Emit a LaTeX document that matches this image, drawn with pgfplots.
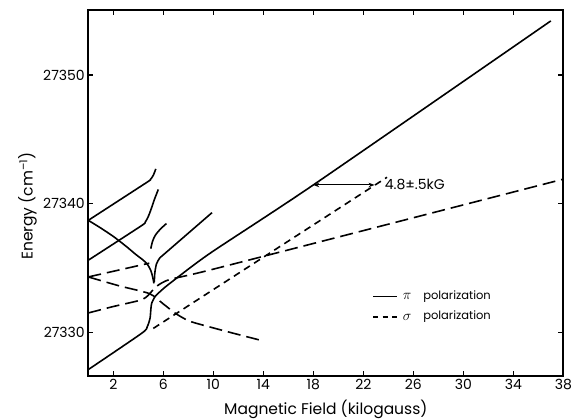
\documentclass[border=0pt]{standalone}
\usepackage{fontspec}
\setmainfont{Poppins}
\usepackage{pgfplots}
\pgfplotsset{compat=1.18}
\usetikzlibrary{arrows.meta}

% line styles of the original figure
\tikzset{
  piline/.style={black, line width=1.6pt},
  siglong/.style={black, line width=1.6pt, dash pattern=on 13pt off 6pt},
  sigshort/.style={black, line width=1.6pt, dash pattern=on 7pt off 5pt},
}

\begin{document}
\begin{tikzpicture}
\begin{axis}[
  at={(0,0)}, anchor=south west,
  scale only axis, width=475pt, height=366pt,
  xmin=0, xmax=38, ymin=27326.6, ymax=27355.05,
  xtick={2,6,...,38}, ytick={27330,27340,27350},
  scaled y ticks=false,
  /pgf/number format/1000 sep={},
  /pgf/number format/assume math mode=true,
  tick align=inside, major tick length=5pt,
  tick style={black, line width=1.2pt},
  axis line style={line width=2.2pt},
  tick label style={font=\fontsize{14}{16}\selectfont},
  label style={font=\fontsize{15.5}{18}\selectfont},
  xlabel={Magnetic Field (kilogauss)},
  ylabel={Energy (cm\textsuperscript{--1})},
  x label style={at={(axis description cs:0.5,-0.09)}, anchor=center},
  y label style={at={(axis description cs:-0.128,0.464)}, anchor=center},
]
% pi polarization (solid)
\addplot[piline, smooth, tension=0.4] coordinates {
  (0,27327.1) (4.27,27329.92) (4.72,27330.44) (4.94,27331.09) (5.0,27331.73)
  (5.07,27332.25) (5.34,27332.77) (5.74,27333.16) (6.54,27333.81) (9.74,27336.14)
  (18.0,27341.45) (37.0,27354.2)
};
\addplot[piline, smooth, tension=0.4] coordinates {
  (0,27338.7) (1,27338.1) (2,27337.45) (3,27336.7) (3.8,27336.05) (4.4,27335.6)
  (4.75,27335.25) (5.0,27334.8) (5.15,27334.3) (5.25,27333.8)
};
\addplot[piline, smooth, tension=0.4] coordinates {
  (5.28,27333.9) (5.32,27334.6) (5.45,27335.3) (5.7,27335.75) (6.1,27336.1) (9.9,27339.3)
};
\addplot[piline, smooth, tension=0.4] coordinates {
  (0,27338.7) (4.6,27341.6) (4.95,27341.85) (5.2,27342.2) (5.4,27342.7)
};
\addplot[piline, smooth, tension=0.4] coordinates {
  (0,27335.6) (4.2,27338.25) (4.55,27338.55) (4.8,27339.0) (5.0,27339.5) (5.3,27340.35) (5.6,27341.1)
};
\addplot[piline, smooth, tension=0.5] coordinates {
  (5.0,27336.5) (5.15,27337.1) (5.4,27337.6) (5.8,27338.05) (6.25,27338.45)
};
% sigma polarization (dashed)
\addplot[siglong] coordinates {(0,27334.3) (4.88,27335.37)};
\addplot[siglong, smooth, tension=0.4] coordinates {
  (0,27331.5) (2,27332.0) (4.0,27332.45) (4.6,27332.7) (5.0,27333.1) (5.5,27333.6)
  (6.5,27334.1) (9.74,27334.84) (26.4,27339.0) (38,27341.9)
};
\addplot[siglong, smooth, tension=0.4] coordinates {
  (0,27334.3) (2.5,27333.6) (4.9,27333.0) (6.0,27332.2) (7.0,27331.45) (8.0,27330.9)
  (9.0,27330.6) (11.5,27329.95) (13.9,27329.35)
};
\addplot[sigshort] coordinates {(5.2,27330.3) (23.9,27342.05)};
% legend
\addplot[piline] coordinates {(22.78,27332.77) (24.7,27332.77)};
\addplot[black, line width=1.6pt, dash pattern=on 5pt off 4.5pt] coordinates {(22.78,27331.19) (24.7,27331.19)};
\node[anchor=west, inner sep=0pt, font=\fontsize{14}{16}\selectfont] at (axis cs:25.15,27332.77) {$\pi$};
\node[anchor=west, inner sep=0pt, font=\fontsize{14}{16}\selectfont] at (axis cs:25.15,27331.19) {$\sigma$};
\node[anchor=west, inner sep=0pt, font=\fontsize{11.5}{14}\selectfont] at (axis cs:26.78,27332.77) {polarization};
\node[anchor=west, inner sep=0pt, font=\fontsize{11.5}{14}\selectfont] at (axis cs:26.78,27331.19) {polarization};
% splitting annotation
\draw[black, line width=1pt, {Stealth[length=6pt,width=4.5pt]}-{Stealth[length=6pt,width=4.5pt]}]
  (axis cs:18.0,27341.45) -- (axis cs:22.9,27341.45);
\node[anchor=west, inner sep=0pt, font=\fontsize{14}{16}\selectfont] at (axis cs:23.7,27341.45) {4.8±.5kG};
\end{axis}
\pgfresetboundingbox
\useasboundingbox (-88.3pt,-43pt) rectangle (496.7pt,376pt);
\end{tikzpicture}
\end{document}
